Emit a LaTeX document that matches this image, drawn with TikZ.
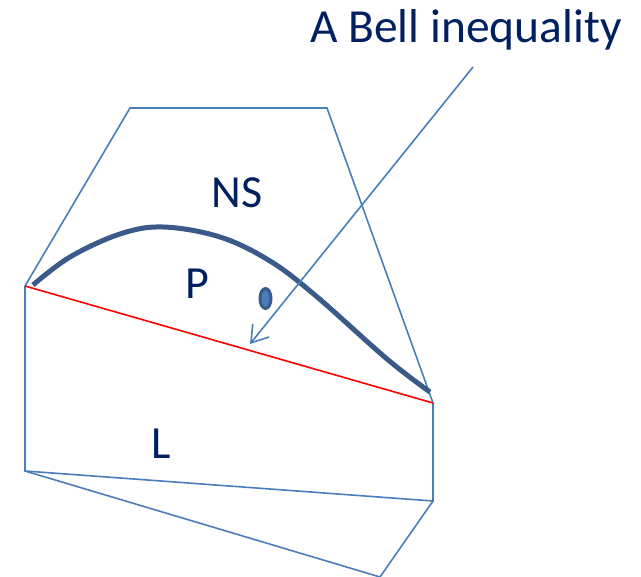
\documentclass[tikz,border=0pt]{standalone}
\usepackage{fontspec}
\setmainfont{Carlito}
\usetikzlibrary{arrows.meta,shapes.geometric}
\definecolor{lineblue}{HTML}{4A7EBB}
\definecolor{curveblue}{HTML}{3A5A8A}
\definecolor{textnavy}{HTML}{002060}
\begin{document}
\begin{tikzpicture}[x=1pt,y=-1pt,
  edge/.style={draw=lineblue,line width=1.6pt},
  lbl/.style={text=textnavy,font=\fontsize{46}{46}\selectfont,inner sep=0pt},
  ]
\useasboundingbox (0,0) rectangle (641,577);
% vertices
\coordinate (a) at (25,286);
\coordinate (b) at (130,108);
\coordinate (c) at (327,108);
\coordinate (d) at (433,403);
\coordinate (e) at (433,501);
\coordinate (f) at (25,471);
\coordinate (g) at (380,577);
% NS polytope
\draw[edge,line join=miter] (a) -- (b) -- (c) -- (d);
% local polytope
\draw[edge] (a) -- (f) -- (e) -- (d);
\draw[edge] (f) -- (g) -- (e);
% facet
\draw[red,line width=1.6pt] (a) -- (d);
% quantum boundary
\draw[curveblue,line width=5pt,line cap=butt] plot[smooth,tension=0.6] coordinates
  {(33,285) (70,257) (120,234) (163,227) (220,237) (270,261) (316,296) (387,359) (430,392)};
% point
\node[draw=curveblue,fill=lineblue,ellipse,minimum width=11pt,minimum height=20pt,inner sep=0pt,line width=3pt] (pt) at (265.5,298.5) {};
% labels
\node[lbl] (ns) at (237,193) {NS};
\node[lbl] (p) at (197,284) {P};
\node[lbl] (l) at (161,444) {L};
\node[text=textnavy,font=\fontsize{47.5}{47.5}\selectfont,anchor=base west,inner sep=0pt] (title) at (310,43) {A Bell inequality};
\coordinate (as) at (473,67);
\coordinate (ae) at (250,344);
\draw[lineblue,line width=1.6pt,-{Straight Barb[length=16pt,width=21pt]}] (as) -- (ae);
\end{tikzpicture}
\end{document}
